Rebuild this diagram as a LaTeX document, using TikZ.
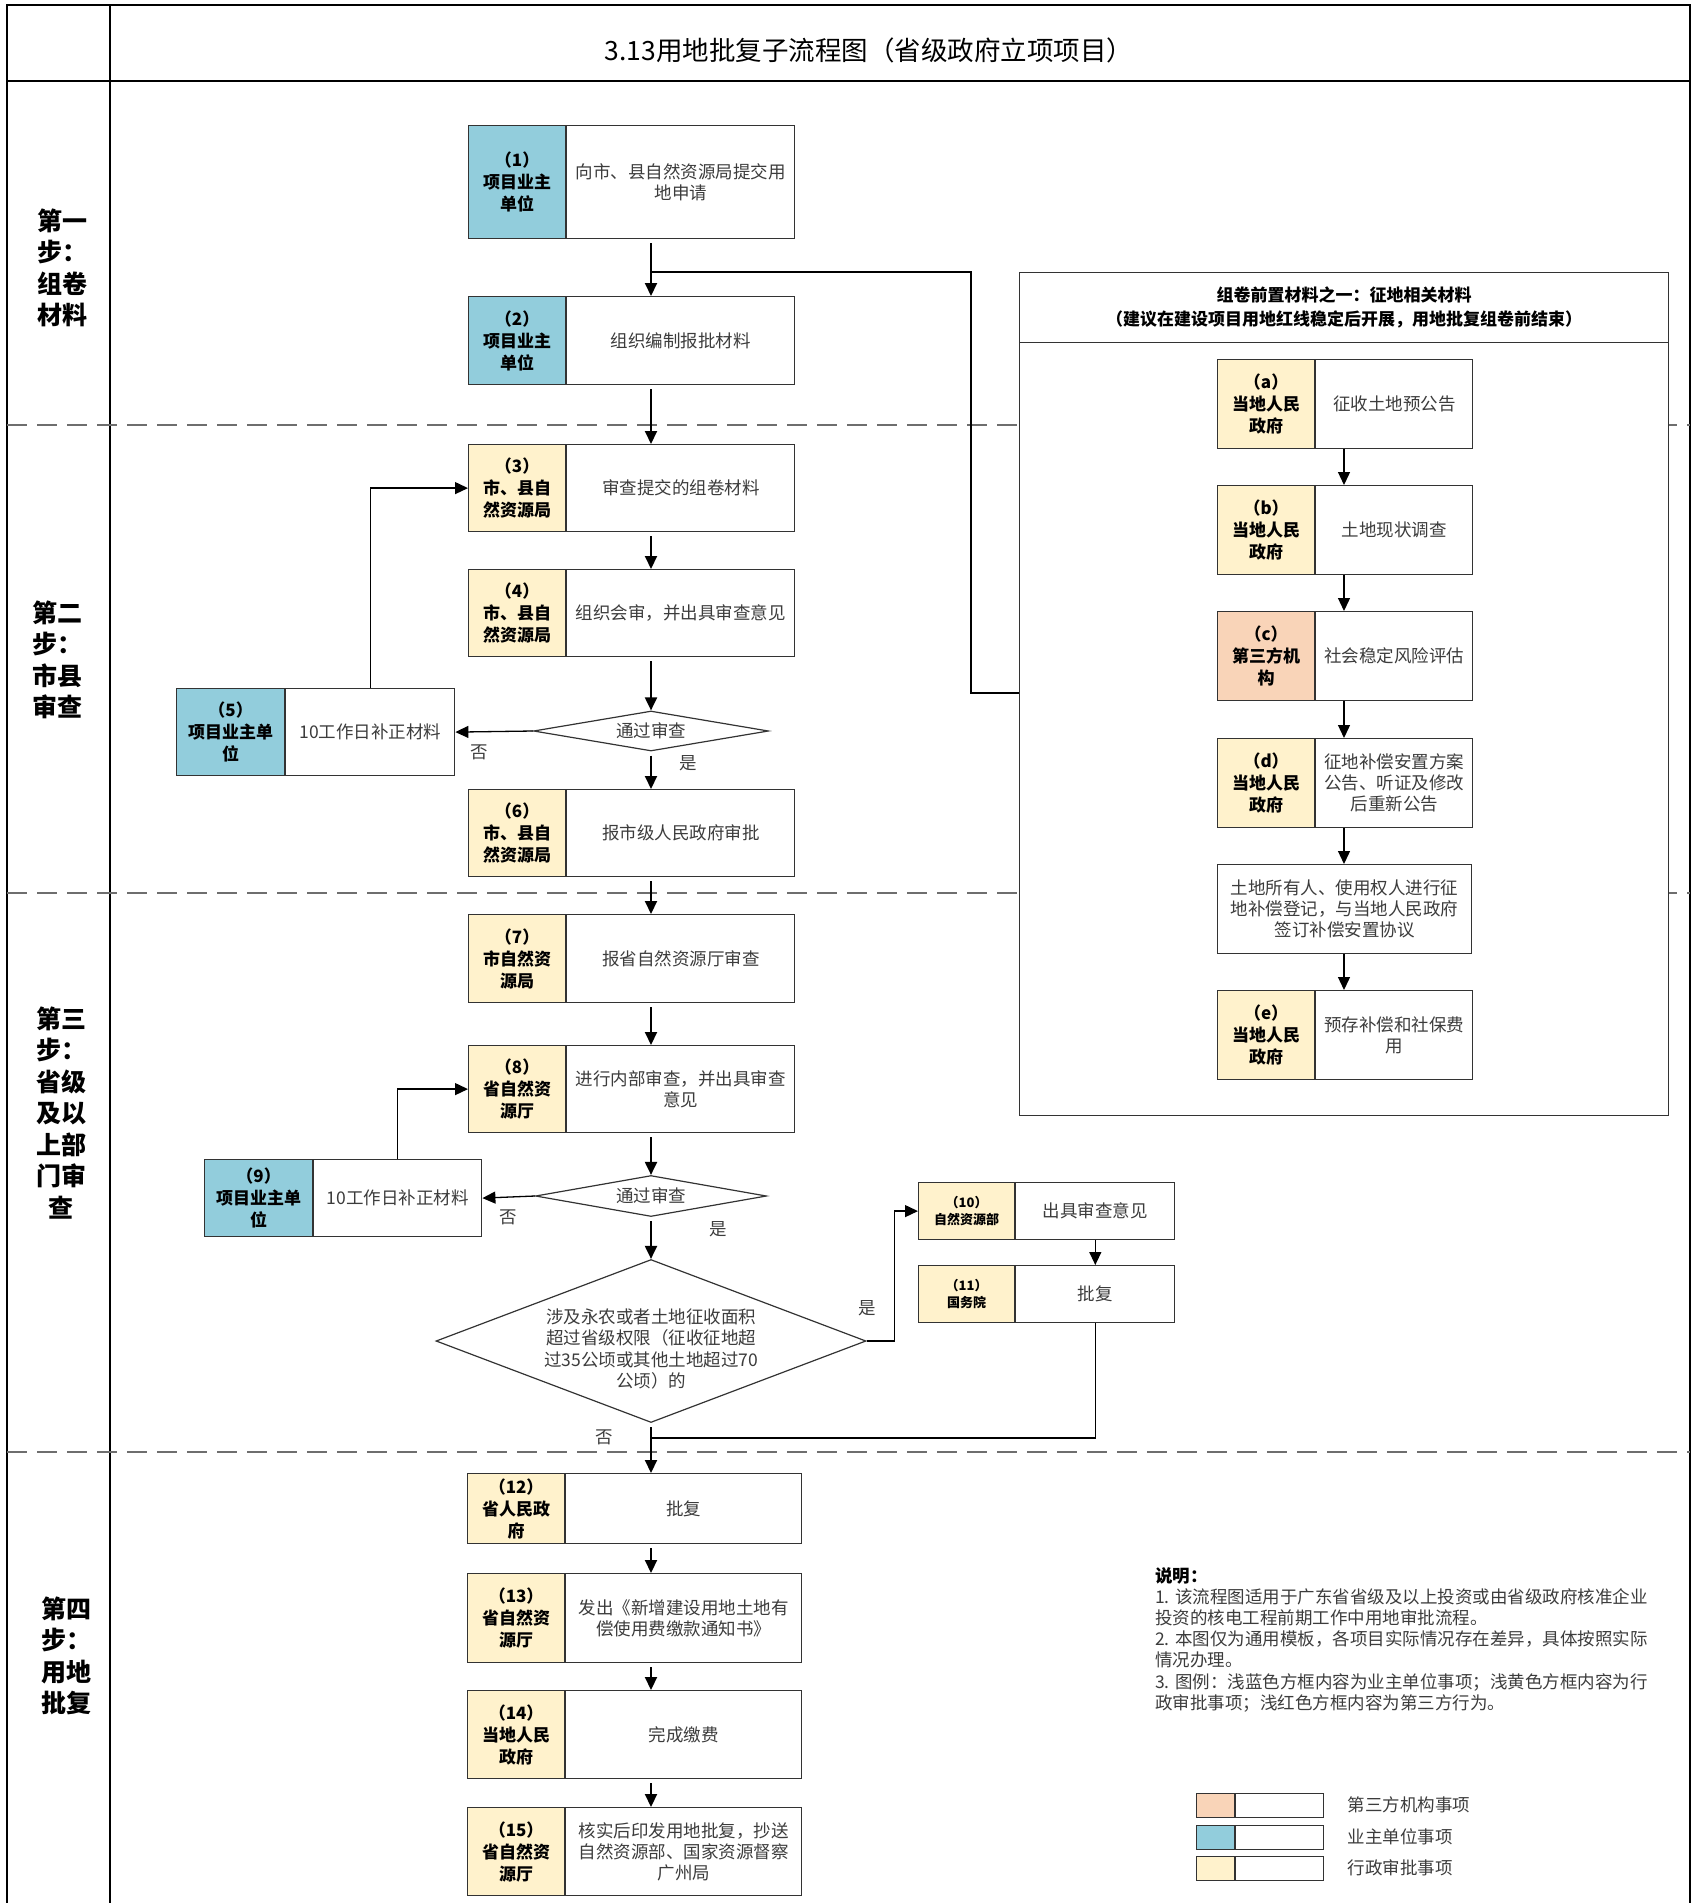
\documentclass[tikz,border=0pt]{standalone}
\usepackage{fontspec}
\setmainfont{Noto Sans CJK SC}
\usetikzlibrary{arrows.meta,shapes.geometric,positioning}

\definecolor{bluelab}{HTML}{92CDDC}
\definecolor{yellowlab}{HTML}{FFF2CC}
\definecolor{peachlab}{HTML}{F9D4B8}
\definecolor{lanegray}{HTML}{6E6E6E}
\definecolor{txtgray}{HTML}{3C3C3C}

\newcommand{\fnttitle}{\fontsize{26.5}{30}\selectfont}
\newcommand{\fntlane}{\bfseries\fontsize{25}{31.5}\selectfont}
\newcommand{\fntlab}{\bfseries\fontsize{17}{22}\selectfont}
\newcommand{\fnthead}{\bfseries\fontsize{17}{24}\selectfont}
\newcommand{\fntsmall}{\bfseries\fontsize{13}{17}\selectfont}
\newcommand{\fntbody}{\fontsize{17.5}{21.2}\selectfont}

\begin{document}
\begin{tikzpicture}[x=1pt,y=-1pt,
    lab/.style={draw=black!80, line width=1.2pt, inner sep=0pt, anchor=north west,
      align=center, font=\fntlab},
    txt/.style={draw=black!80, line width=1.2pt, fill=white, inner sep=0pt,
      anchor=north west, align=center, font=\fntbody, text=txtgray},
    decide/.style={draw=black!80, line width=1.2pt, fill=white, shape=diamond,
      inner sep=0pt, align=center, font=\fntbody, text=txtgray},
    panelbox/.style={draw=black!80, line width=1.2pt, fill=white, inner sep=0pt,
      anchor=north west, align=center, minimum width=649},
    flow/.style={line width=2pt, -{Triangle[length=13pt,width=12pt]}, shorten <=4pt},
    back/.style={line width=1.3pt, -{Triangle[length=13pt,width=12pt]}},
    link/.style={line width=1.3pt},
    lane/.style={lanegray, line width=1.5pt, dash pattern=on 20pt off 10pt},
    note/.style={font=\fntbody, text=txtgray},
    legbox/.style={draw=black!80, line width=1.2pt, inner sep=0pt, anchor=north west,
      minimum height=24}
  ]
  \useasboundingbox (0,0) rectangle (1695,1903);

  % Cornice e titolo
  \draw[line width=2pt] (7,1903) -- (7,5) -- (1690,5) -- (1690,1903);
  \draw[line width=2pt] (7,81) -- (1690,81);
  \draw[line width=1.2pt] (110,5) -- (110,1903);
  \node[font=\fnttitle] (title) at (869,50) {3.13用地批复子流程图（省级政府立项项目）};

  % Corsie
  \foreach \y in {425,893,1452}
    \draw[lane] (7,\y) -- (1690,\y);
  \node[font=\fntlane, align=center] (step1) at (62,268) {第一\\步：\\组卷\\材料};
  \node[font=\fntlane, align=center] (step2) at (57,660) {第二\\步：\\市县\\审查};
  \node[font=\fntlane, align=center] (step3) at (61,1113) {第三\\步：\\省级\\及以\\上部\\门审\\查};
  \node[font=\fntlane, align=center] (step4) at (66,1656) {第四\\步：\\用地\\批复};

  % Colonna principale
  \node[lab, fill=bluelab, minimum width=97, minimum height=113] (l1) at (468,125) {（1）\\项目业主\\单位};
  \node[txt, minimum width=228, minimum height=113, right=0pt of l1] (t1) {向市、县自然资源局提交用\\地申请};
  \node[lab, fill=bluelab, minimum width=97, minimum height=88] (l2) at (468,296) {（2）\\项目业主\\单位};
  \node[txt, minimum width=228, minimum height=88, right=0pt of l2] (t2) {组织编制报批材料};
  \node[lab, fill=yellowlab, minimum width=97, minimum height=87] (l3) at (468,444) {（3）\\市、县自\\然资源局};
  \node[txt, minimum width=228, minimum height=87, right=0pt of l3] (t3) {审查提交的组卷材料};
  \node[lab, fill=yellowlab, minimum width=97, minimum height=87] (l4) at (468,569) {（4）\\市、县自\\然资源局};
  \node[txt, minimum width=228, minimum height=87, right=0pt of l4] (t4) {组织会审，并出具审查意见};
  \node[decide, minimum width=235, minimum height=40, aspect=5.9] (d1) at (651,731) {通过审查};
  \node[lab, fill=bluelab, minimum width=108, minimum height=87] (l5) at (176,688) {（5）\\项目业主单\\位};
  \node[txt, minimum width=169, minimum height=87, right=0pt of l5] (t5) {10工作日补正材料};
  \node[lab, fill=yellowlab, minimum width=97, minimum height=87] (l6) at (468,789) {（6）\\市、县自\\然资源局};
  \node[txt, minimum width=228, minimum height=87, right=0pt of l6] (t6) {报市级人民政府审批};
  \node[lab, fill=yellowlab, minimum width=97, minimum height=88] (l7) at (468,914) {（7）\\市自然资\\源局};
  \node[txt, minimum width=228, minimum height=88, right=0pt of l7] (t7) {报省自然资源厅审查};
  \node[lab, fill=yellowlab, minimum width=97, minimum height=87] (l8) at (468,1045) {（8）\\省自然资\\源厅};
  \node[txt, minimum width=228, minimum height=87, right=0pt of l8] (t8) {进行内部审查，并出具审查\\意见};
  \node[decide, minimum width=231, minimum height=41, aspect=5.6] (d2) at (651,1196) {通过审查};
  \node[lab, fill=bluelab, minimum width=108, minimum height=77] (l9) at (204,1159) {（9）\\项目业主单\\位};
  \node[txt, minimum width=168, minimum height=77, right=0pt of l9] (t9) {10工作日补正材料};
  \node[decide, minimum width=430, minimum height=163, aspect=2.64] (d3) at (651,1341) {};
  \node[note, align=center] (d3t) at ([yshift=-8pt]d3.center)
    {涉及永农或者土地征收面积\\超过省级权限（征收征地超\\过35公顷或其他土地超过70\\公顷）的};
  \node[lab, fill=yellowlab, minimum width=96, minimum height=57, font=\fntsmall] (l10) at (918,1182) {（10）\\自然资源部};
  \node[txt, minimum width=159, minimum height=57, right=0pt of l10] (t10) {出具审查意见};
  \node[lab, fill=yellowlab, minimum width=96, minimum height=57, font=\fntsmall] (l11) at (918,1265) {（11）\\国务院};
  \node[txt, minimum width=159, minimum height=57, right=0pt of l11] (t11) {批复};
  \node[lab, fill=yellowlab, minimum width=97, minimum height=70] (l12) at (467,1473) {（12）\\省人民政\\府};
  \node[txt, minimum width=236, minimum height=70, right=0pt of l12] (t12) {批复};
  \node[lab, fill=yellowlab, minimum width=97, minimum height=89] (l13) at (467,1573) {（13）\\省自然资\\源厅};
  \node[txt, minimum width=236, minimum height=89, right=0pt of l13] (t13) {发出《新增建设用地土地有\\偿使用费缴款通知书》};
  \node[lab, fill=yellowlab, minimum width=97, minimum height=88] (l14) at (467,1690) {（14）\\当地人民\\政府};
  \node[txt, minimum width=236, minimum height=88, right=0pt of l14] (t14) {完成缴费};
  \node[lab, fill=yellowlab, minimum width=97, minimum height=88] (l15) at (467,1807) {（15）\\省自然资\\源厅};
  \node[txt, minimum width=236, minimum height=88, right=0pt of l15] (t15) {核实后印发用地批复，抄送\\自然资源部、国家资源督察\\广州局};

  % Riquadro materiali di esproprio
  \node[panelbox, minimum height=70, font=\fnthead] (phead) at (1019,272)
    {组卷前置材料之一：征地相关材料\\（建议在建设项目用地红线稳定后开展，用地批复组卷前结束）};
  \node[panelbox, minimum height=773] (pbody) at (1019,342) {};
  \node[lab, fill=yellowlab, minimum width=97, minimum height=89] (la) at (1217,359) {（a）\\当地人民\\政府};
  \node[txt, minimum width=157, minimum height=89, right=0pt of la] (ta) {征收土地预公告};
  \node[lab, fill=yellowlab, minimum width=97, minimum height=89] (lb) at (1217,485) {（b）\\当地人民\\政府};
  \node[txt, minimum width=157, minimum height=89, right=0pt of lb] (tb) {土地现状调查};
  \node[lab, fill=peachlab, minimum width=97, minimum height=89] (lc) at (1217,611) {（c）\\第三方机\\构};
  \node[txt, minimum width=157, minimum height=89, right=0pt of lc] (tc) {社会稳定风险评估};
  \node[lab, fill=yellowlab, minimum width=97, minimum height=89] (ld) at (1217,738) {（d）\\当地人民\\政府};
  \node[txt, minimum width=157, minimum height=89, right=0pt of ld] (td) {征地补偿安置方案\\公告、听证及修改\\后重新公告};
  \node[txt, minimum width=254, minimum height=89] (tf) at (1217,864) {土地所有人、使用权人进行征\\地补偿登记，与当地人民政府\\签订补偿安置协议};
  \node[lab, fill=yellowlab, minimum width=97, minimum height=89] (le) at (1217,990) {（e）\\当地人民\\政府};
  \node[txt, minimum width=157, minimum height=89, right=0pt of le] (te) {预存补偿和社保费\\用};

  % Frecce
  \coordinate (mx) at (651,0);
  \coordinate (px) at (1344,0);
  \foreach \a/\b in {t1/t2, t2/t3, t3/t4, t6/t7, t7/t8, t12/t13, t13/t14, t14/t15}
    \draw[flow] (\a.south -| mx) -- (\b.north -| mx);
  \draw[flow] (t4.south -| mx) -- (d1.north);
  \draw[flow] (d1.south) -- (t6.north -| mx);
  \draw[flow] (t8.south -| mx) -- (d2.north);
  \draw[flow] (d2.south) -- (d3.north);
  \draw[flow] (d3.south) -- (t12.north -| mx);
  \foreach \a/\b in {ta/tb, tb/tc, tc/td, td/tf, tf/te}
    \draw[back] (\a.south -| px) -- (\b.north -| px);

  % Rami e ritorni
  \coordinate (brA) at (651,272);
  \coordinate (brB) at (971,693);
  \draw[link] (brA) -| (brB) -- (brB -| pbody.west);
  \draw[back] (d1.west) -- (t5.east);
  \draw[back] (t5.north) |- (l3.west);
  \draw[back] (d2.west) -- (t9.east);
  \draw[back] (t9.north) |- (l8.west);
  \draw[back] (d3.east) -- ++(28,0) |- (l10.west);
  \draw[back] (t10.south) -- (t11.north);
  \coordinate (jn) at (651,1438);
  \draw[link] (t11.south) |- (jn);

  % Etichette si/no
  \node[note] (no1) at (479,752) {否};
  \node[note] (yes1) at (688,763) {是};
  \node[note] (no2) at (508,1217) {否};
  \node[note] (yes2) at (718,1229) {是};
  \node[note] (yes3) at (867,1308) {是};
  \node[note] (no3) at (604,1437) {否};

  % Note
  \node[note, anchor=north west, align=left, inner sep=0pt] (notes) at (1155,1567)
    {\textbf{\color{black}说明：}\\1. 该流程图适用于广东省省级及以上投资或由省级政府核准企业\\投资的核电工程前期工作中用地审批流程。\\2. 本图仅为通用模板，各项目实际情况存在差异，具体按照实际\\情况办理。\\3. 图例：浅蓝色方框内容为业主单位事项；浅黄色方框内容为行\\政审批事项；浅红色方框内容为第三方行为。};

  % Legenda
  \node[legbox, fill=peachlab, minimum width=38] (k1) at (1196,1793) {};
  \node[legbox, minimum width=88, right=0pt of k1] (k1r) {};
  \node[note, anchor=west] (k1s) at (1344,1805) {第三方机构事项};
  \node[legbox, fill=bluelab, minimum width=38] (k2) at (1196,1825) {};
  \node[legbox, minimum width=88, right=0pt of k2] (k2r) {};
  \node[note, anchor=west] (k2s) at (1344,1837) {业主单位事项};
  \node[legbox, fill=yellowlab, minimum width=38] (k3) at (1196,1856) {};
  \node[legbox, minimum width=88, right=0pt of k3] (k3r) {};
  \node[note, anchor=west] (k3s) at (1344,1868) {行政审批事项};
\end{tikzpicture}
\end{document}
